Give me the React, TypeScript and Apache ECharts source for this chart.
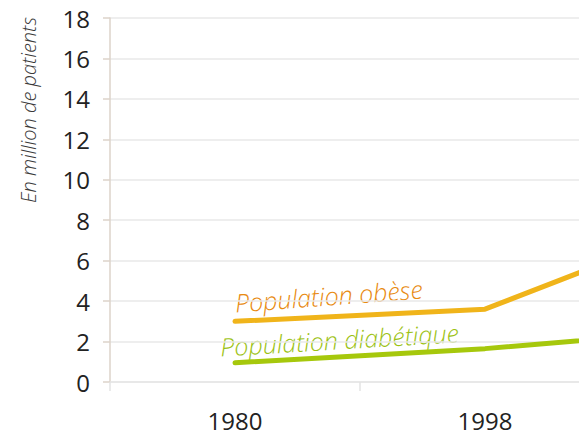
import React, { useEffect, useRef } from "react";
import * as echarts from "echarts";

const categories = ["1980", "1998", "2014"];
const obeseValues = [3.0, 3.6, 8.4];
const diabeteValues = [0.95, 1.65, 2.7];
const yTicks = { min: 0, max: 18, interval: 2 };
const axisName = "En million de patients";
const obeseLabel = "Population obèse";
const diabeteLabel = "Population diabétique";

export default function App() {
  const ref = useRef<HTMLDivElement>(null);
  useEffect(() => {
    if (!ref.current) return;
    const chart = echarts.init(ref.current, undefined, { renderer: "svg" });
    const font = "'Open Sans', 'Noto Sans', sans-serif";
    chart.setOption({
      animation: false,
      grid: { left: 110, top: 18, bottom: 52, width: 750 },
      xAxis: {
        type: "category",
        data: categories,
        boundaryGap: true,
        axisLine: { show: true, lineStyle: { color: "#e6e6e6", width: 1.5 } },
        axisTick: { show: true, length: 9, lineStyle: { color: "#e3e3e3", width: 1.5 } },
        axisLabel: { fontSize: 24, color: "#222", fontFamily: font, margin: 26 },
        splitLine: { show: false },
      },
      yAxis: {
        type: "value",
        min: yTicks.min,
        max: yTicks.max,
        interval: yTicks.interval,
        axisLine: { show: true, lineStyle: { color: "#dcd3ca", width: 1.5 } },
        axisTick: { show: true, length: 7, lineStyle: { color: "#dcd3ca", width: 1.5 } },
        axisLabel: { fontSize: 24, color: "#222", fontFamily: font, margin: 20 },
        splitLine: { show: true, lineStyle: { color: "#e8e8e8", width: 1.5 } },
      },
      series: [
        {
          type: "line",
          data: diabeteValues,
          showSymbol: false,
          lineStyle: { color: "#a6c80c", width: 5, cap: "round" },
          z: 3,
        },
        {
          type: "line",
          data: obeseValues,
          showSymbol: false,
          lineStyle: { color: "#f0b41a", width: 5, cap: "round" },
          z: 4,
        },
      ],
      graphic: [
        {
          type: "text",
          x: 28,
          y: 110,
          rotation: Math.PI / 2,
          style: {
            text: axisName,
            fontSize: 20,
            fontWeight: 300,
            fontStyle: "italic",
            fontFamily: font,
            fill: "#3a3a3a",
            align: "center",
            verticalAlign: "middle",
          },
        },
        {
          type: "text",
          x: 236,
          y: 315,
          rotation: 0.075,
          style: {
            text: obeseLabel,
            fontSize: 25,
            fontWeight: 300,
            fontStyle: "italic",
            fontFamily: font,
            fill: "#e88a10",
            align: "left",
            verticalAlign: "bottom",
          },
        },
        {
          type: "text",
          x: 221,
          y: 359,
          rotation: 0.06,
          style: {
            text: diabeteLabel,
            fontSize: 25,
            fontWeight: 300,
            fontStyle: "italic",
            fontFamily: font,
            fill: "#9cc214",
            align: "left",
            verticalAlign: "bottom",
          },
        },
      ],
    });
    return () => chart.dispose();
  }, []);
  return (
    <div
      style={{
        position: "absolute",
        left: 0,
        top: 0,
        width: 579,
        height: 434,
        overflow: "hidden",
        background: "#fff",
      }}
    >
      <div ref={ref} style={{ width: 900, height: 434 }} />
    </div>
  );
}
